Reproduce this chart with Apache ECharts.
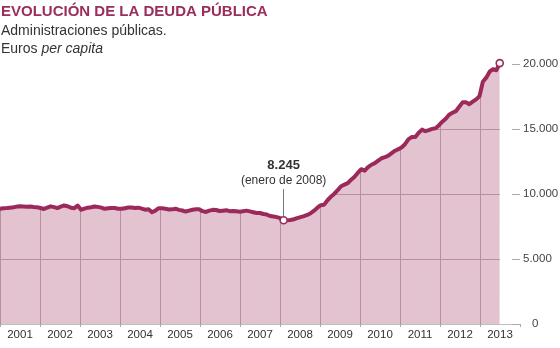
<!DOCTYPE html>
<html>
<head>
<meta charset="utf-8">
<script src="https://cdn.jsdelivr.net/npm/echarts@6/dist/echarts.min.js"></script>
<style>html,body{margin:0;padding:0;background:#fff}#c{width:560px;height:348px}</style>
</head>
<body>
<div id="c"></div>
<script>
// ---- data (euros per capita, monthly, Jan 2001 - May 2013) ----
const years = ['2001','2002','2003','2004','2005','2006','2007','2008','2009','2010','2011','2012','2013'];
const debt2001 = [8870, 8900, 8920, 8950, 8980, 9030, 9050, 9040, 9020, 9030, 9000, 8980];
const debt2002 = [8920, 8850, 8950, 9050, 8990, 8920, 9020, 9120, 9060, 8950, 8910, 9110];
const debt2003 = [8790, 8870, 8950, 8980, 9040, 9010, 8950, 8860, 8910, 8930, 8920, 8870];
const debt2004 = [8860, 8910, 8960, 8960, 8920, 8950, 8880, 8790, 8830, 8600, 8720, 8910];
const debt2005 = [8900, 8870, 8810, 8820, 8870, 8780, 8730, 8650, 8720, 8790, 8820, 8830];
const debt2006 = [8680, 8620, 8720, 8780, 8770, 8690, 8720, 8750, 8680, 8700, 8670, 8640];
const debt2007 = [8680, 8720, 8660, 8600, 8540, 8540, 8460, 8420, 8310, 8270, 8220, 8140];
const debt2008 = [7980, 7990, 8000, 8060, 8140, 8220, 8300, 8390, 8520, 8720, 8950, 9140];
const debt2009 = [9180, 9520, 9790, 10020, 10290, 10600, 10720, 10830, 11100, 11330, 11640, 11910];
const debt2010 = [11790, 12060, 12250, 12370, 12560, 12750, 12830, 12950, 13140, 13330, 13450, 13600];
const debt2011 = [13850, 14220, 14380, 14380, 14710, 14950, 14830, 14910, 15010, 15060, 15290, 15560];
const debt2012 = [15790, 16100, 16250, 16370, 16710, 17050, 17050, 16910, 17100, 17280, 17520, 18640];
const debt2013 = [18950, 19410, 19600, 19520, 20070];
const yTicks = [0, 5000, 10000, 15000, 20000];

const titleText = 'EVOLUCIÓN DE LA DEUDA PÚBLICA';
const subLine1 = 'Administraciones públicas.';
const subLine2a = 'Euros ';
const subLine2b = 'per capita';
const minIndex = 84;           // enero de 2008
const minLabel = '8.245';
const minNote = '(enero de 2008)';
const lastMonthLabel = 'Mayo';
const lastLabel = '20.070';

// ---- build ----
const debt = [].concat(debt2001, debt2002, debt2003, debt2004, debt2005, debt2006, debt2007,
  debt2008, debt2009, debt2010, debt2011, debt2012, debt2013);
const lastIndex = debt.length - 1;
const xMax = 154;
const yMax = yTicks[yTicks.length - 1];
const pts = debt.map((v, i) => [i, v]);
// white mask above the curve (and right of the last point) so the grid shows only inside the fill
const coverPts = pts.concat([[lastIndex + 0.02, 0], [xMax, 0]]);

const FONT = '"Liberation Sans", Arial, sans-serif';
const MAIN = '#9b2a5a';
const FILL = '#e4c3d0';
const GRIDC = '#b98ea2';
const fmt = v => String(v).replace(/\B(?=(\d{3})+(?!\d))/g, '.');

const chart = echarts.init(document.getElementById('c'), null, {renderer: 'canvas'});
chart.setOption({
  animation: false,
  textStyle: {fontFamily: FONT},
  title: [
    {text: titleText, left: 1, top: 4, padding: 0,
     textStyle: {fontSize: 15, fontWeight: 'bold', color: '#9b2d5c', fontFamily: FONT}},
    {text: '{n|' + subLine1 + '}\n{n|' + subLine2a + '}{i|' + subLine2b + '}', left: 1, top: 22, padding: 0,
     textStyle: {fontFamily: FONT, fontWeight: 'normal', rich: {
       n: {fontSize: 14, color: '#333', lineHeight: 18, fontWeight: 'normal', fontFamily: FONT},
       i: {fontSize: 14, color: '#333', lineHeight: 18, fontWeight: 'normal', fontStyle: 'italic', fontFamily: FONT}}}}
  ],
  grid: {left: 0, right: 40, top: 64, bottom: 24, containLabel: false, outerBoundsMode: 'none'},
  xAxis: [
    {type: 'category', data: years, position: 'bottom', z: 3, boundaryGap: true,
     axisLine: {show: false}, axisTick: {show: false}, axisLabel: {show: false},
     splitLine: {show: true, interval: 0, showMaxLine: false, lineStyle: {color: GRIDC, width: 1}}},
    {type: 'category', data: years, position: 'bottom', z: 9, boundaryGap: true,
     axisLine: {show: true, onZero: false, lineStyle: {color: '#bdbdbd', width: 1}},
     axisTick: {show: true, interval: 0, length: 3, lineStyle: {color: '#aaa'}},
     axisLabel: {show: true, interval: 0, margin: 5, fontSize: 11.5, color: '#333', fontFamily: FONT},
     splitLine: {show: false}},
    {type: 'value', min: 0, max: xMax, show: false, position: 'bottom'}
  ],
  yAxis: [
    {type: 'value', min: 0, max: yMax, interval: 5000, z: 3, position: 'right',
     axisLine: {show: false}, axisTick: {show: false}, axisLabel: {show: false},
     splitLine: {show: true, showMaxLine: false, lineStyle: {color: GRIDC, width: 1}}},
    {type: 'value', min: 0, max: yMax, interval: 5000, z: 9, position: 'right',
     axisLine: {show: false},
     axisTick: {show: true, inside: true, length: 8, lineStyle: {color: '#aaa'}},
     axisLabel: {show: true, margin: 3, fontSize: 11.5, color: '#444', fontFamily: FONT,
       formatter: v => v === 0 ? '{z|0}' : fmt(v),
       rich: {z: {padding: [0, 0, 0, 9], fontSize: 11.5, color: '#444', fontFamily: FONT}}},
     splitLine: {show: false}}
  ],
  series: [
    {name: 'fill', type: 'line', xAxisIndex: 2, yAxisIndex: 0, data: pts, z: 2, silent: true,
     symbol: 'none', lineStyle: {width: 0, opacity: 0}, areaStyle: {color: FILL, opacity: 1}},
    {name: 'cover', type: 'line', xAxisIndex: 2, yAxisIndex: 0, data: coverPts, z: 4, silent: true,
     symbol: 'none', lineStyle: {width: 0, opacity: 0}, areaStyle: {color: '#fff', opacity: 1, origin: 'end'}},
    {name: 'deuda', type: 'line', xAxisIndex: 2, yAxisIndex: 0, data: pts, z: 6, clip: false,
     symbol: 'none', lineStyle: {width: 4, color: MAIN, join: 'round', cap: 'round'}},
    {name: 'marks', type: 'scatter', xAxisIndex: 2, yAxisIndex: 0, z: 7, clip: false,
     data: [[minIndex, debt[minIndex]], [lastIndex, debt[lastIndex]]],
     symbol: 'circle', symbolSize: 7,
     itemStyle: {color: '#fff', borderColor: MAIN, borderWidth: 1.6, opacity: 1},
     markLine: {z: 5, silent: true, symbol: ['none', 'none'], label: {show: false},
       lineStyle: {color: '#777', width: 1, type: 'solid'},
       data: [[{coord: [minIndex, debt[minIndex]]}, {coord: [minIndex, 10385]}]]},
     markPoint: {z: 8, silent: true,
       data: [
         {coord: [minIndex, debt[minIndex]], symbol: 'circle', symbolSize: 1, itemStyle: {color: 'rgba(0,0,0,0)'},
          label: {show: true, position: 'inside', offset: [0, -55.3], formatter: minLabel,
            fontSize: 13, fontWeight: 'bold', color: '#333', fontFamily: FONT}},
         {coord: [minIndex, debt[minIndex]], symbol: 'circle', symbolSize: 1, itemStyle: {color: 'rgba(0,0,0,0)'},
          label: {show: true, position: 'inside', offset: [0, -39.6], formatter: minNote,
            fontSize: 12, color: '#333', fontFamily: FONT}},
         {coord: [lastIndex, debt[lastIndex]], symbol: 'circle', symbolSize: 1, itemStyle: {color: 'rgba(0,0,0,0)'},
          label: {show: true, position: 'inside', offset: [-24.5, -43.4], formatter: lastMonthLabel,
            fontSize: 12, color: '#333', fontFamily: FONT}},
         {coord: [lastIndex, debt[lastIndex]], symbol: 'path://M0,0 L8,0 L7,7 Z', symbolSize: [8, 7],
          symbolOffset: [-5.5, -9], itemStyle: {color: '#9b2d5c'}, label: {show: false}},
         {coord: [lastIndex, debt[lastIndex]], symbol: 'circle', symbolSize: 1, itemStyle: {color: 'rgba(0,0,0,0)'},
          label: {show: true, position: 'inside', offset: [-25.5, -23.4], formatter: lastLabel,
            fontSize: 14, fontWeight: 'bold', color: '#fff', fontFamily: FONT,
            backgroundColor: '#9b2d5c', padding: [4, 8, 4, 8], lineHeight: 14}}
       ]}}
  ]
});
</script>
</body>
</html>
